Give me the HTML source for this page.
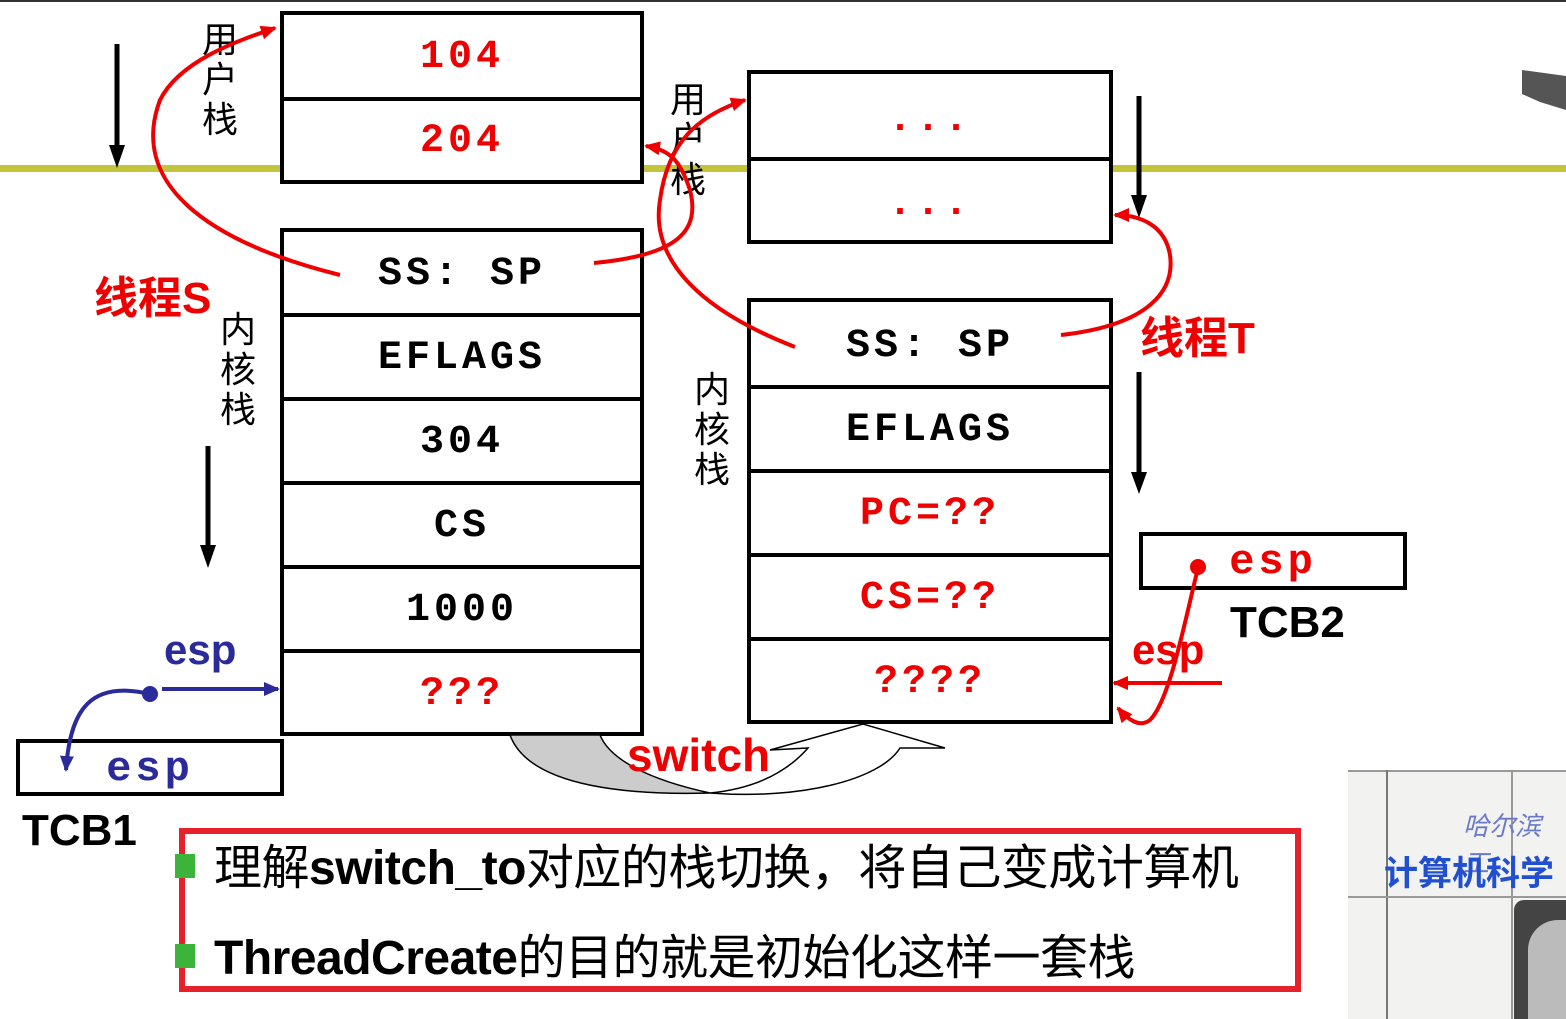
<!DOCTYPE html>
<html><head><meta charset="utf-8"><style>
body{margin:0;width:1566px;height:1019px;background:#fff;overflow:hidden;position:relative;font-family:"Liberation Sans","Noto Sans CJK SC",sans-serif}
.b{position:absolute;border:4px solid #000;box-sizing:border-box;background:#fff}
.r{position:absolute;left:0;right:0;border-top:4px solid #000;}
.t{position:absolute;width:100%;text-align:center;font-family:"Liberation Mono",monospace;font-weight:bold;font-size:40px;letter-spacing:4px}
.red{color:#e00}
.a{position:absolute;font-size:36px;line-height:40px;color:#000}
</style></head><body>
<div style="position:absolute;left:0;top:0;width:1566px;height:2px;background:#333"></div>
<div style="position:absolute;left:0;top:165px;width:1566px;height:7px;background:#c4c43c"></div>

<div class="b" style="left:280px;top:11px;width:364px;height:173px">
<div class="t red" style="top:20px">104</div>
<div class="r" style="top:82px"></div>
<div class="t red" style="top:104px">204</div></div>
<div class="b" style="left:280px;top:228px;width:364px;height:508px">
<div class="t" style="top:20px">SS: SP</div>
<div class="r" style="top:81px"></div><div class="t" style="top:104px">EFLAGS</div>
<div class="r" style="top:165px"></div><div class="t" style="top:188px">304</div>
<div class="r" style="top:249px"></div><div class="t" style="top:272px">CS</div>
<div class="r" style="top:333px"></div><div class="t" style="top:356px">1000</div>
<div class="r" style="top:417px"></div><div class="t red" style="top:440px">???</div></div>
<div class="b" style="left:747px;top:70px;width:366px;height:174px">
<div class="t red" style="top:24px">...</div>
<div class="r" style="top:83px"></div><div class="t red" style="top:108px">...</div></div>
<div class="b" style="left:747px;top:298px;width:366px;height:426px">
<div class="t" style="top:22px">SS: SP</div>
<div class="r" style="top:83px"></div><div class="t" style="top:106px">EFLAGS</div>
<div class="r" style="top:167px"></div><div class="t red" style="top:190px">PC=??</div>
<div class="r" style="top:251px"></div><div class="t red" style="top:274px">CS=??</div>
<div class="r" style="top:335px"></div><div class="t red" style="top:358px">????</div></div>

<div class="b" style="left:16px;top:739px;width:268px;height:57px"><div class="t" style="top:2px;color:#2a2a9a;font-size:42px">esp</div></div>
<div class="b" style="left:1139px;top:532px;width:268px;height:58px"><div class="t" style="top:2px;color:#e00;font-size:42px">esp</div></div>
<div style="position:absolute;left:22px;top:806px;font-size:44px;font-weight:bold">TCB1</div>
<div style="position:absolute;left:1230px;top:598px;font-size:44px;font-weight:bold">TCB2</div>

<div class="a" style="left:202px;top:20px;width:40px">用<br>户<br>栈</div>
<div class="a" style="left:670px;top:80px;width:40px">用<br>户<br>栈</div>
<div class="a" style="left:220px;top:310px;width:40px">内<br>核<br>栈</div>
<div class="a" style="left:694px;top:370px;width:40px">内<br>核<br>栈</div>
<div style="position:absolute;left:94px;top:262px;font-size:44px;color:#e00;font-weight:bold">线程S</div>
<div style="position:absolute;left:1140px;top:302px;font-size:44px;color:#e00;font-weight:bold">线程T</div>
<div style="position:absolute;left:164px;top:626px;font-size:42px;color:#2a2a9a;font-weight:bold">esp</div>
<div style="position:absolute;left:1132px;top:626px;font-size:42px;color:#e00;font-weight:bold">esp</div>

<svg style="position:absolute;left:0;top:0" width="1566" height="1019">
<defs>
<marker id="rr" markerUnits="userSpaceOnUse" markerWidth="16" markerHeight="14" refX="14" refY="7" orient="auto"><path d="M0,0L16,7L0,14Z" fill="#e00"/></marker>
<marker id="bb" markerUnits="userSpaceOnUse" markerWidth="16" markerHeight="14" refX="14" refY="7" orient="auto"><path d="M0,0L16,7L0,14Z" fill="#2a2a9a"/></marker></defs>
<g stroke="#000" stroke-width="5">
<line x1="117" y1="44" x2="117" y2="150"/><line x1="208" y1="446" x2="208" y2="550"/>
<line x1="1139" y1="96" x2="1139" y2="200"/><line x1="1139" y1="372" x2="1139" y2="476"/></g>
<g fill="#000"><path d="M109,145L125,145L117,168Z"/><path d="M200,545L216,545L208,568Z"/><path d="M1131,195L1147,195L1139,218Z"/><path d="M1131,472L1147,472L1139,494Z"/></g>
<g fill="none" stroke="#e00" stroke-width="4">
<path d="M340,275 C200,240 130,180 160,100 C180,60 240,40 275,28" marker-end="url(#rr)"/>
<path d="M594,263 C680,255 700,230 690,190 C680,160 670,150 646,146" marker-end="url(#rr)"/>
<path d="M795,347 C700,310 650,260 660,200 C668,140 700,115 745,100" marker-end="url(#rr)"/>
<path d="M1061,335 C1150,325 1175,290 1170,255 C1165,225 1140,215 1115,215" marker-end="url(#rr)"/>
<path d="M1198,568 C1185,620 1170,700 1150,720 C1140,728 1128,720 1118,708" marker-end="url(#rr)"/>
<line x1="1222" y1="683" x2="1114" y2="683" marker-end="url(#rr)"/>
</g>
<circle cx="1198" cy="567" r="8" fill="#e00"/>
<g fill="none" stroke="#2a2a9a" stroke-width="4">
<line x1="162" y1="689" x2="278" y2="689" marker-end="url(#bb)"/>
<path d="M150,694 C90,680 70,710 66,770" marker-end="url(#bb)"/></g>
<circle cx="150" cy="694" r="8" fill="#2a2a9a"/>
<path d="M510,735 C530,790 640,795 710,793 C650,780 610,760 600,735 Z" fill="#ccc" stroke="#000" stroke-width="1.5"/>
<path d="M710,793 C800,800 880,780 900,748 L945,748 L863,724 L770,750 L808,748 C780,780 740,790 710,793" fill="#fff" stroke="#000" stroke-width="1.5"/>
<path d="M1522,70 L1566,76 L1566,110 L1540,102 L1522,94 Z" fill="#555"/>
</svg>
<div style="position:absolute;left:627px;top:728px;font-size:46px;color:#e00;font-weight:bold">switch</div>

<div style="position:absolute;left:179px;top:828px;width:1122px;height:164px;border:6px solid #e8202a;box-sizing:border-box"></div>
<div style="position:absolute;left:175px;top:854px;width:20px;height:24px;background:#3cb43c"></div>
<div style="position:absolute;left:175px;top:944px;width:20px;height:24px;background:#3cb43c"></div>
<div style="position:absolute;left:214px;top:828px;font-size:48px;white-space:nowrap;letter-spacing:-0.5px">理解<b>switch_to</b>对应的栈切换，将自己变成计算机</div>
<div style="position:absolute;left:214px;top:918px;font-size:48px;white-space:nowrap;letter-spacing:-0.5px"><b>ThreadCreate</b>的目的就是初始化这样一套栈</div>

<div style="position:absolute;left:1348px;top:770px;width:218px;height:249px;background:#f2f2f0;overflow:hidden">
<div style="position:absolute;left:0;top:0;width:218px;height:2px;background:#999"></div>
<div style="position:absolute;left:38px;top:0;width:2px;height:249px;background:#777"></div>
<div style="position:absolute;left:163px;top:0;width:2px;height:249px;background:#999"></div>
<div style="position:absolute;left:0;top:126px;width:218px;height:2px;background:#999"></div>
<div style="position:absolute;left:115px;top:36px;font-size:26px;color:#6a7ac8;font-style:italic">哈尔滨工</div>
<div style="position:absolute;left:36px;top:76px;font-size:34px;color:#2050d0;font-weight:bold;white-space:nowrap">计算机科学</div>
<div style="position:absolute;left:166px;top:130px;width:60px;height:130px;background:#444;border-radius:10px 0 0 0"></div>
<div style="position:absolute;left:180px;top:150px;width:60px;height:110px;background:#bbb;border-radius:30px 0 0 0"></div>
</div>
</body></html>
